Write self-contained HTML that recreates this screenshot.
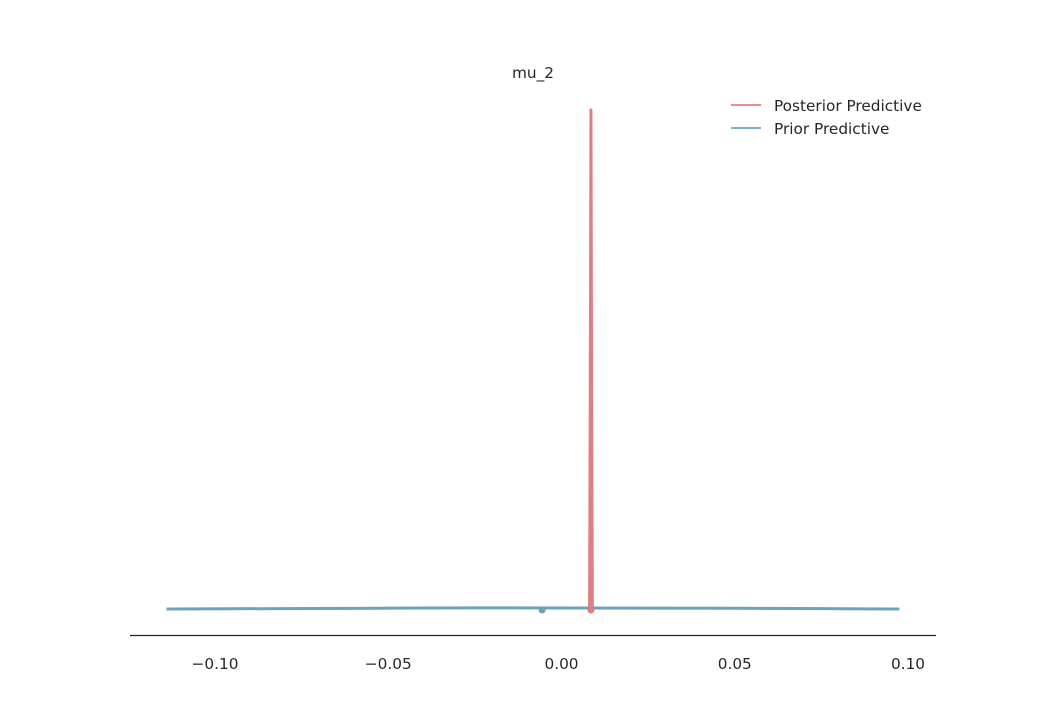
<!DOCTYPE html>
<html><head><meta charset="utf-8"><style>
body{margin:0;background:#fff;}
svg{display:block;font-family:"DejaVu Sans","Liberation Sans",sans-serif;}
</style></head><body>
<svg width="1040" height="715" id="chart">
<text x="533" y="78" text-anchor="middle" font-size="15.3" fill="#262626">mu_2</text>
<line x1="130" y1="635.5" x2="936" y2="635.5" stroke="#262626" stroke-width="1.3"/>
<g id="ticks"></g>
<g id="series"></g>
<g>
<g><line x1="731" y1="105" x2="761" y2="105" stroke="#e07f7f" stroke-width="1.8"/><text x="774" y="111" font-size="15.3" fill="#262626">Posterior Predictive</text></g>
<g><line x1="731" y1="128" x2="761" y2="128" stroke="#6ba3b8" stroke-width="1.8"/><text x="774" y="134" font-size="15.3" fill="#262626">Prior Predictive</text></g>
</g>
</svg>
<script>
const tickValues=[-0.10,-0.05,0.00,0.05,0.10];
const tickLabels=["\u22120.10","\u22120.05","0.00","0.05","0.10"];
const priorX=[-0.114,-0.08,-0.05,-0.025,0,0.025,0.05,0.075,0.0975];
const priorY=[0.0,0.6,1.2,1.6,1.5,1.3,1.0,0.5,0.0];
const postX=[0.0078,0.0081,0.0083,0.0085,0.0087,0.0089,0.0092];
const postY=[0,5,300,720,300,5,0];
const priorMean=-0.0056, postMean=0.0085;
const sx=v=>561.5+v*3465;
const sy=d=>609-d*(499/720);
const ns="http://www.w3.org/2000/svg";
const tg=document.getElementById('ticks');
tickValues.forEach((v,i)=>{
 const t=document.createElementNS(ns,'text');
 
 
 t.setAttribute('x',sx(v));t.setAttribute('y',669);t.setAttribute('text-anchor','middle');
 t.setAttribute('font-size','15.3');t.setAttribute('fill','#262626');t.textContent=tickLabels[i];tg.appendChild(t);
});
const sg=document.getElementById('series');
function line(xs,ys,col,w,name){
 const p=document.createElementNS(ns,'path');
 
 
 p.setAttribute('d',xs.map((x,i)=>(i?'L':'M')+sx(x).toFixed(2)+' '+sy(ys[i]).toFixed(2)).join(' '));
 p.setAttribute('fill','none');p.setAttribute('stroke',col);p.setAttribute('stroke-width',w);p.setAttribute('stroke-linejoin','round');
 sg.appendChild(p);
}
function dot(x,col,name){
 const c=document.createElementNS(ns,'circle');
 
 
 c.setAttribute('cx',sx(x));c.setAttribute('cy',610);c.setAttribute('r',3.5);c.setAttribute('fill',col);sg.appendChild(c);
}
line(postX,postY,'#e07f7f',3,'posterior-line');
line(priorX,priorY,'#6ba3b8',3,'prior-line');
dot(priorMean,'#6ba3b8','prior-mean-dot');
dot(postMean,'#e07f7f','posterior-mean-dot');
</script>
</body></html>
